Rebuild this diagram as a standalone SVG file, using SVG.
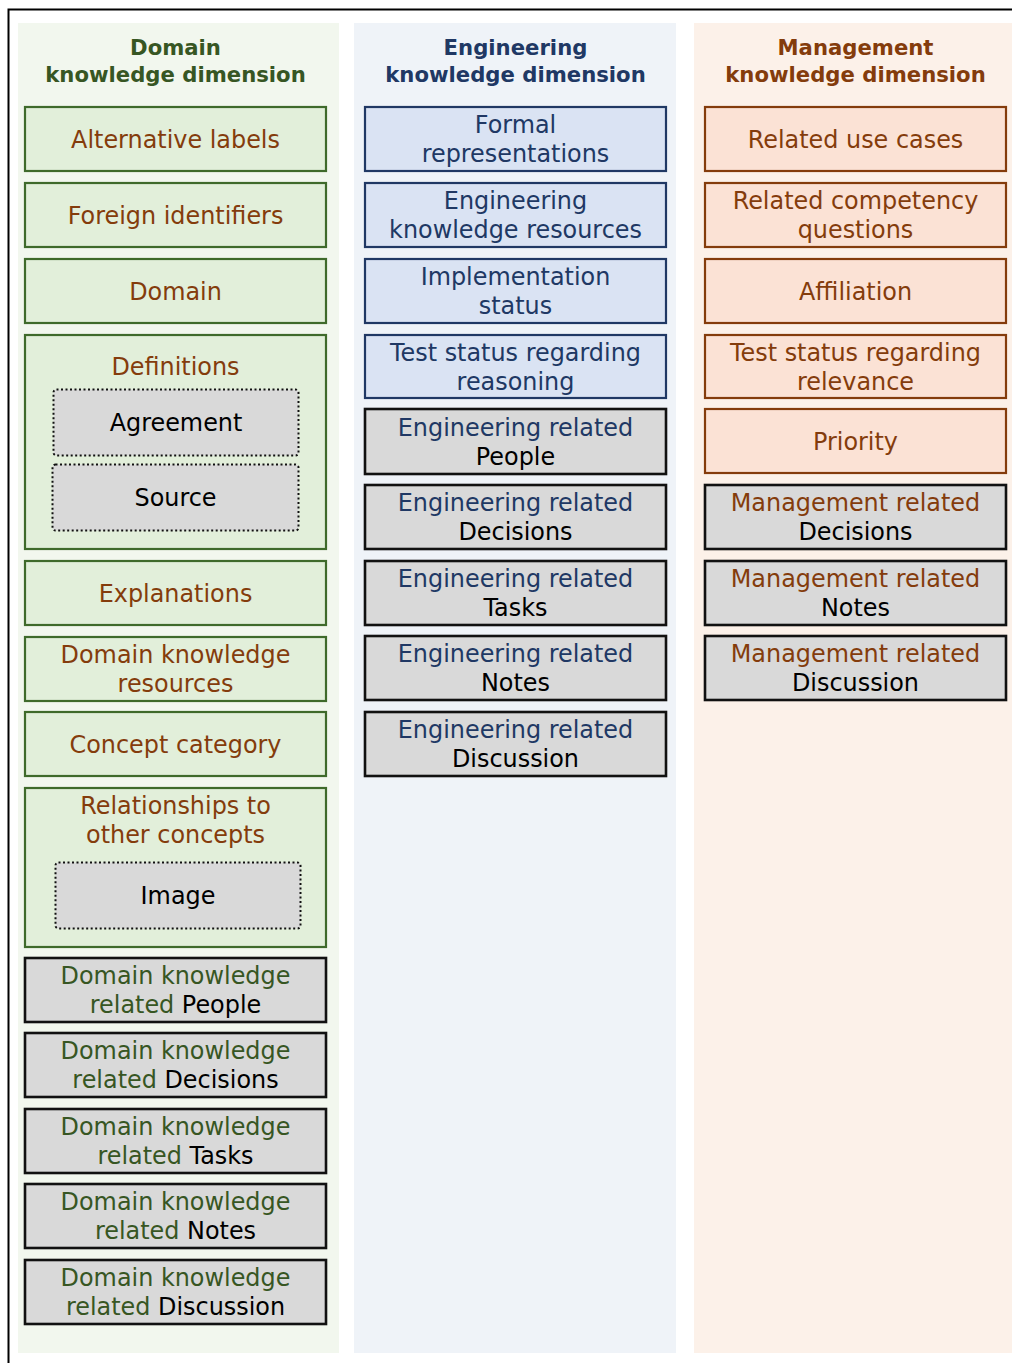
<svg xmlns="http://www.w3.org/2000/svg" width="1012" height="1363" viewBox="0 0 1012 1363">
<style>
text{font-family:"DejaVu Sans","Liberation Sans",sans-serif;font-size:23.9px;text-anchor:middle}
.h{font-weight:bold;font-size:21.2px}
.dbox{fill:#e2efda;stroke:#3f6a2b;stroke-width:2.2}
.ebox{fill:#dae3f3;stroke:#203864;stroke-width:2.2}
.mbox{fill:#fbe2d5;stroke:#843c0c;stroke-width:2.2}
.gbox{fill:#d9d9d9;stroke:#111;stroke-width:2.6}
.dot{fill:#d9d9d9;stroke:#111;stroke-width:2;stroke-dasharray:2 2.5}
.br{fill:#843c0c}.gr{fill:#375623}.bl{fill:#203864}.k{fill:#000}
</style>
<rect x="0" y="0" width="1012" height="1363" fill="#fff"/>
<rect x="8.5" y="9.5" width="1012" height="1363" fill="none" stroke="#000" stroke-width="2"/>
<rect x="18" y="23" width="321" height="1330" fill="#f2f7ee"/>
<rect x="354" y="23" width="322" height="1330" fill="#eff3f8"/>
<rect x="694" y="23" width="318" height="1330" fill="#fcf1e9"/>
<g id="headers">
<text class="h gr" x="175.5" y="55">Domain</text>
<text class="h gr" x="175.5" y="81.5">knowledge dimension</text>
<text class="h bl" x="515.5" y="55">Engineering</text>
<text class="h bl" x="515.5" y="81.5">knowledge dimension</text>
<text class="h br" x="855.5" y="55">Management</text>
<text class="h br" x="855.5" y="81.5">knowledge dimension</text>
</g>
<g id="domain">
<g id="d1"><rect class="dbox" x="25" y="107" width="301" height="64"/><text class="br" x="175.5" y="147.5">Alternative labels</text></g>
<g id="d2"><rect class="dbox" x="25" y="183" width="301" height="64"/><text class="br" x="175.5" y="223.5">Foreign identifiers</text></g>
<g id="d3"><rect class="dbox" x="25" y="259" width="301" height="64"/><text class="br" x="175.5" y="299.5">Domain</text></g>
<g id="d4"><rect class="dbox" x="25" y="335" width="301" height="214"/><text class="br" x="175.5" y="374.5">Definitions</text>
<g id="d4a"><rect class="dot" x="53.5" y="389.5" width="245" height="66" rx="3"/><text class="k" x="176" y="431">Agreement</text></g>
<g id="d4b"><rect class="dot" x="52.5" y="464.5" width="246" height="66" rx="3"/><text class="k" x="175.5" y="506">Source</text></g>
</g>
<g id="d5"><rect class="dbox" x="25" y="561" width="301" height="64"/><text class="br" x="175.5" y="601.5">Explanations</text></g>
<g id="d6"><rect class="dbox" x="25" y="637" width="301" height="64"/><text class="br" x="175.5" y="663">Domain knowledge</text><text class="br" x="175.5" y="692">resources</text></g>
<g id="d7"><rect class="dbox" x="25" y="712" width="301" height="64"/><text class="br" x="175.5" y="752.5">Concept category</text></g>
<g id="d8"><rect class="dbox" x="25" y="788" width="301" height="159"/><text class="br" x="175.5" y="814">Relationships to</text><text class="br" x="175.5" y="843">other concepts</text>
<g id="d8a"><rect class="dot" x="55.5" y="862.5" width="245" height="66" rx="3"/><text class="k" x="178" y="904">Image</text></g>
</g>
<g id="d9"><rect class="gbox" x="25" y="958" width="301" height="64"/><text class="gr" x="175.5" y="984">Domain knowledge</text><text x="175.5" y="1013"><tspan class="gr">related </tspan><tspan class="k">People</tspan></text></g>
<g id="d10"><rect class="gbox" x="25" y="1033" width="301" height="64"/><text class="gr" x="175.5" y="1059">Domain knowledge</text><text x="175.5" y="1088"><tspan class="gr">related </tspan><tspan class="k">Decisions</tspan></text></g>
<g id="d11"><rect class="gbox" x="25" y="1109" width="301" height="64"/><text class="gr" x="175.5" y="1135">Domain knowledge</text><text x="175.5" y="1164"><tspan class="gr">related </tspan><tspan class="k">Tasks</tspan></text></g>
<g id="d12"><rect class="gbox" x="25" y="1184" width="301" height="64"/><text class="gr" x="175.5" y="1210">Domain knowledge</text><text x="175.5" y="1239"><tspan class="gr">related </tspan><tspan class="k">Notes</tspan></text></g>
<g id="d13"><rect class="gbox" x="25" y="1260" width="301" height="64"/><text class="gr" x="175.5" y="1286">Domain knowledge</text><text x="175.5" y="1315"><tspan class="gr">related </tspan><tspan class="k">Discussion</tspan></text></g>
</g>
<g id="engineering">
<g id="e1"><rect class="ebox" x="365" y="107" width="301" height="64"/><text class="bl" x="515.5" y="133">Formal</text><text class="bl" x="515.5" y="162">representations</text></g>
<g id="e2"><rect class="ebox" x="365" y="183" width="301" height="64"/><text class="bl" x="515.5" y="209">Engineering</text><text class="bl" x="515.5" y="238">knowledge resources</text></g>
<g id="e3"><rect class="ebox" x="365" y="259" width="301" height="64"/><text class="bl" x="515.5" y="285">Implementation</text><text class="bl" x="515.5" y="314">status</text></g>
<g id="e4"><rect class="ebox" x="365" y="335" width="301" height="63"/><text class="bl" x="515.5" y="360.5">Test status regarding</text><text class="bl" x="515.5" y="389.5">reasoning</text></g>
<g id="e5"><rect class="gbox" x="365" y="409" width="301" height="65"/><text class="bl" x="515.5" y="435.5">Engineering related</text><text class="k" x="515.5" y="464.5">People</text></g>
<g id="e6"><rect class="gbox" x="365" y="485" width="301" height="64"/><text class="bl" x="515.5" y="511">Engineering related</text><text class="k" x="515.5" y="540">Decisions</text></g>
<g id="e7"><rect class="gbox" x="365" y="561" width="301" height="64"/><text class="bl" x="515.5" y="587">Engineering related</text><text class="k" x="515.5" y="616">Tasks</text></g>
<g id="e8"><rect class="gbox" x="365" y="636" width="301" height="64"/><text class="bl" x="515.5" y="662">Engineering related</text><text class="k" x="515.5" y="691">Notes</text></g>
<g id="e9"><rect class="gbox" x="365" y="712" width="301" height="64"/><text class="bl" x="515.5" y="738">Engineering related</text><text class="k" x="515.5" y="767">Discussion</text></g>
</g>
<g id="management">
<g id="m1"><rect class="mbox" x="705" y="107" width="301" height="64"/><text class="br" x="855.5" y="147.5">Related use cases</text></g>
<g id="m2"><rect class="mbox" x="705" y="183" width="301" height="64"/><text class="br" x="855.5" y="209">Related competency</text><text class="br" x="855.5" y="238">questions</text></g>
<g id="m3"><rect class="mbox" x="705" y="259" width="301" height="64"/><text class="br" x="855.5" y="299.5">Affiliation</text></g>
<g id="m4"><rect class="mbox" x="705" y="335" width="301" height="63"/><text class="br" x="855.5" y="360.5">Test status regarding</text><text class="br" x="855.5" y="389.5">relevance</text></g>
<g id="m5"><rect class="mbox" x="705" y="409" width="301" height="64"/><text class="br" x="855.5" y="449.5">Priority</text></g>
<g id="m6"><rect class="gbox" x="705" y="485" width="301" height="64"/><text class="br" x="855.5" y="511">Management related</text><text class="k" x="855.5" y="540">Decisions</text></g>
<g id="m7"><rect class="gbox" x="705" y="561" width="301" height="64"/><text class="br" x="855.5" y="587">Management related</text><text class="k" x="855.5" y="616">Notes</text></g>
<g id="m8"><rect class="gbox" x="705" y="636" width="301" height="64"/><text class="br" x="855.5" y="662">Management related</text><text class="k" x="855.5" y="691">Discussion</text></g>
</g>
<g id="connectors"/>
</svg>
